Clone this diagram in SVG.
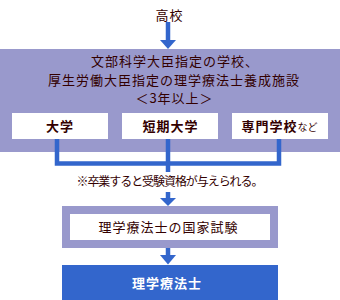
<svg xmlns="http://www.w3.org/2000/svg" width="340" height="300" viewBox="0 0 340 300">
<style>
text{font-family:"Noto Sans CJK JP","Noto Sans",sans-serif;fill:#330000;font-size:13px;letter-spacing:1px;text-anchor:middle}
.b{font-weight:bold}
.w{fill:#ffffff}
.small{font-size:10px;letter-spacing:0;font-weight:normal}
.band{fill:#9999cc}
.box{fill:#ffffff}
.blue{fill:#3366cc}
.ln{stroke:#3366cc;stroke-width:4.5;fill:none}
</style>
<rect width="340" height="300" fill="#ffffff"/>
<g id="start"><text x="169.5" y="19.5">高校</text></g>
<g id="schools">
<rect class="band" x="0" y="49" width="340" height="103"/>
<text x="175" y="66">文部科学大臣指定の学校、</text>
<text x="174" y="84.5">厚生労働大臣指定の理学療法士養成施設</text>
<text x="174.5" y="103">＜3年以上＞</text>
</g>
<g id="univ"><rect class="box" x="12" y="113" width="96" height="26"/><text class="b" x="60" y="130.5">大学</text></g>
<g id="junior"><rect class="box" x="122" y="113" width="96" height="26"/><text class="b" x="170.5" y="130.5">短期大学</text></g>
<g id="vocational"><rect class="box" x="232" y="113" width="96" height="26"/><text class="b" x="279.5" y="130.5"><tspan>専門学校</tspan><tspan class="small">など</tspan></text></g>
<g id="note"><text x="170" y="186" style="font-size:12px;letter-spacing:0" textLength="187">※卒業すると受験資格が与えられる。</text></g>
<g id="exam"><rect x="66" y="210" width="208" height="34" fill="#ffffff" stroke="#9999cc" stroke-width="8"/><text x="168.5" y="231.5">理学療法士の国家試験</text></g>
<g id="pt"><rect class="blue" x="62" y="265" width="216" height="35"/><text class="b w" x="167" y="287.5">理学療法士</text></g>
<g id="connectors">
<line class="ln" x1="168" y1="22" x2="168" y2="41"/>
<polygon class="blue" points="160,40 176,40 168,49"/>
<polyline class="ln" points="57,139 57,163.5 279,163.5 279,139"/>
<line class="ln" x1="168" y1="139" x2="168" y2="172"/>
<line class="ln" x1="168" y1="192" x2="168" y2="199"/>
<polygon class="blue" points="160,198 176,198 168,206"/>
<line class="ln" x1="168" y1="248" x2="168" y2="256"/>
<polygon class="blue" points="160,255 176,255 168,264.5"/>
</g>
</svg>
